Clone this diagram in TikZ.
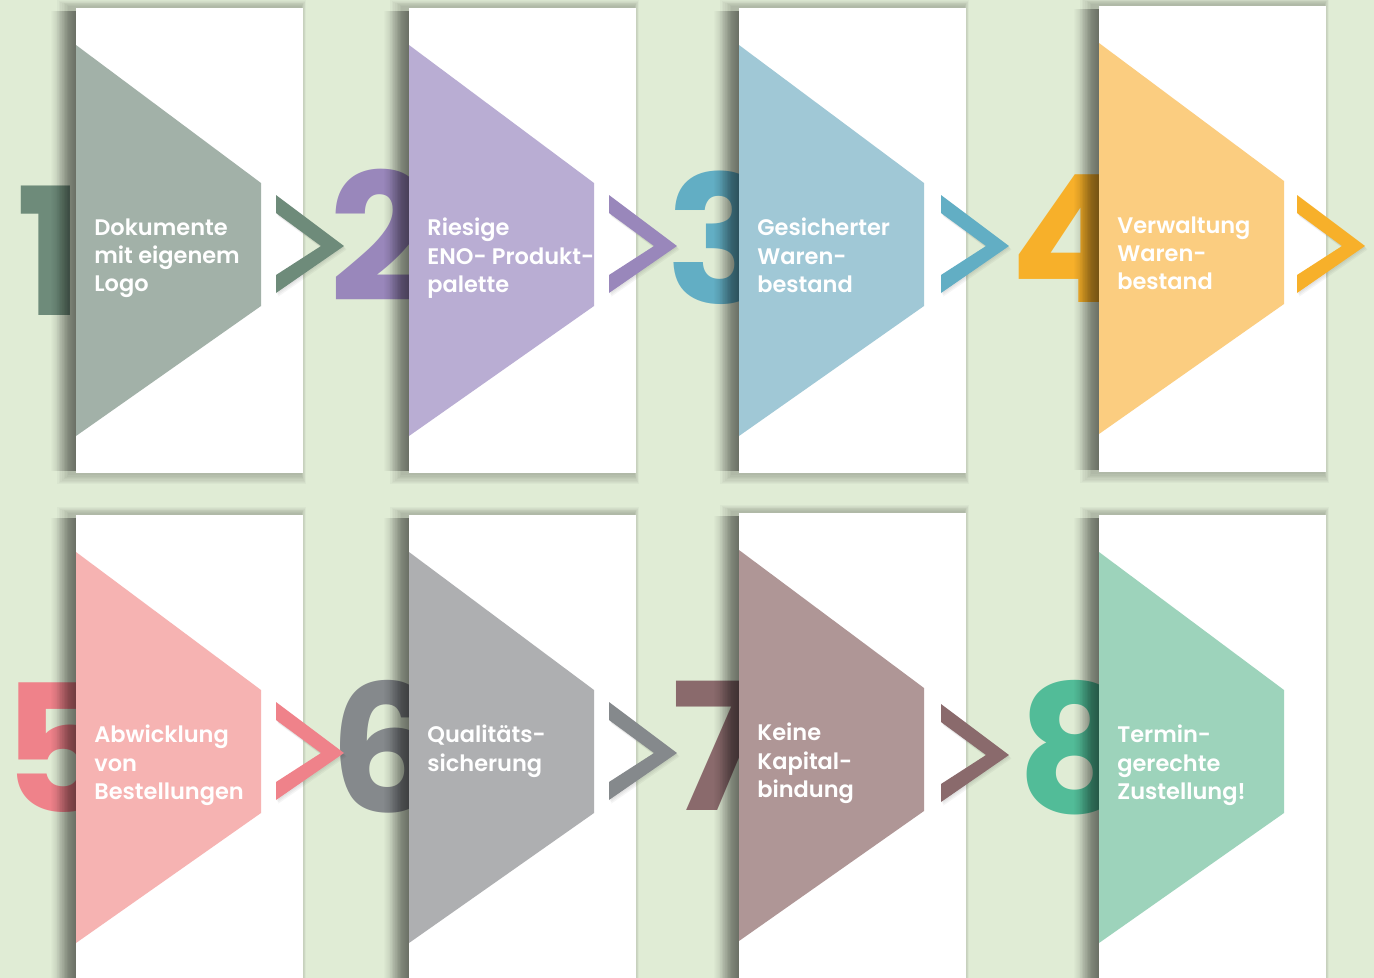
\documentclass[tikz,border=0pt]{standalone}
\usepackage{fontspec}
\usetikzlibrary{fadings}
\IfFontExistsTF{Poppins SemiBold}{\newfontfamily\lblfont{Poppins SemiBold}}{%
  \IfFontExistsTF{Poppins Medium}{\newfontfamily\lblfont{Poppins Medium}}{\newfontfamily\lblfont{Poppins}[FakeBold=1]}}
\IfFontExistsTF{Poppins Bold}{\newfontfamily\numfont{Poppins Bold}}{\newfontfamily\numfont{Poppins}[FakeBold=2]}
\definecolor{bg}{HTML}{E0ECD5}
\definecolor{pa}{HTML}{A2B1A8}\definecolor{da}{HTML}{6E8B7A}
\definecolor{pb}{HTML}{B9ADD3}\definecolor{db}{HTML}{9987BB}
\definecolor{pc}{HTML}{A0C8D6}\definecolor{dc}{HTML}{62AEC4}
\definecolor{pd}{HTML}{FBCD80}\definecolor{dd}{HTML}{F7B02A}
\definecolor{pe}{HTML}{F6B3B2}\definecolor{de}{HTML}{EF828A}
\definecolor{pf}{HTML}{AEAFB1}\definecolor{df}{HTML}{85898C}
\definecolor{pg}{HTML}{AF9696}\definecolor{dg}{HTML}{8A6A6C}
\definecolor{ph}{HTML}{9DD3BB}\definecolor{dh}{HTML}{52BC98}
\tikzfading[name=shfade, left color=transparent!100, right color=transparent!0]
\tikzset{
  numtxt/.style={inner sep=0pt, font={\numfont\fontsize{101pt}{101pt}\selectfont}},
  lbltxt/.style={inner sep=0pt, text=white, align=left, font={\lblfont\fontsize{12.8pt}{16pt}\selectfont}},
}
% #1 x, #2 top, #3 height, #4 light colour, #5 text, #6 name
\newcommand\flowcard[6]{%
  \begin{scope}[shift={(#1,#2)}]
    \foreach \i in {1,...,8}{\fill[black,opacity=0.026] (-6-1.6*\i,-1-0.9*\i) rectangle (225+0.6*\i,#3+1+1.3*\i);}
    \fill[black,opacity=0.40,path fading=shfade] (-26,3) rectangle (0,#3-2);
    \fill[white] (0,0) rectangle (227,#3);
    \fill[#4] (0,37) -- (185,175) -- (185,298) -- (0,428) -- cycle;
    \node[lbltxt, anchor=north west] (#6) at (18,210) {#5};
  \end{scope}}
% #1 x, #2 top, #3 colour
\newcommand\chevron[3]{%
  \begin{scope}[shift={(#1,#2)}]
    \foreach \i in {1,2,3}{\fill[black,opacity=0.04,shift={(0.8*\i,1.2*\i)}] (200,187) -- (268,238) -- (200,285) -- (200,267) -- (245,238) -- (200,205) -- cycle;}
    \fill[#3] (200,187) -- (268,238) -- (200,285) -- (200,267) -- (245,238) -- (200,205) -- cycle;
  \end{scope}}
\begin{document}
\begin{tikzpicture}[x=0.02cm,y=-0.02cm]
\useasboundingbox (0,0) rectangle (1374,978);
\clip (0,0) rectangle (1374,978);
\fill[bg] (0,0) rectangle (1374,978);
% big numbers
\node[numtxt, text=da, anchor=base west] (n1) at (16,315) {1};
\node[numtxt, text=db, anchor=base west] (n2) at (329,301) {2};
\node[numtxt, text=dc, anchor=base west] (n3) at (666,303) {3};
\node[numtxt, text=dd, anchor=base west] (n4) at (1010,302) {4};
\node[numtxt, text=de, anchor=base west] (n5) at (2,812) {5};
\node[numtxt, text=df, anchor=base west] (n6) at (329,812) {6};
\node[numtxt, text=dg, anchor=base west] (n7) at (671,810) {7};
\node[numtxt, text=dh, anchor=base west] (n8) at (1017,812) {8};
% cards row 1
\flowcard{76}{8}{465}{pa}{Dokumente\\mit eigenem\\Logo}{t1}
\flowcard{409}{8}{465}{pb}{Riesige\\ENO- Produkt-\\palette}{t2}
\flowcard{739}{8}{465}{pc}{Gesicherter\\Waren-\\bestand}{t3}
\flowcard{1099}{6}{466}{pd}{Verwaltung\\Waren-\\bestand}{t4}
% cards row 2
\flowcard{76}{515}{480}{pe}{Abwicklung\\von\\Bestellungen}{t5}
\flowcard{409}{515}{480}{pf}{Qualitäts-\\sicherung}{t6}
\flowcard{739}{513}{480}{pg}{Keine\\Kapital-\\bindung}{t7}
\flowcard{1099}{515}{480}{ph}{Termin-\\gerechte\\Zustellung!}{t8}
% chevrons
\chevron{76}{8}{da}
\chevron{409}{8}{db}
\chevron{741}{8}{dc}
\chevron{1097}{8}{dd}
\chevron{76}{515}{de}
\chevron{409}{515}{df}
\chevron{741}{517}{dg}
\end{tikzpicture}
\end{document}
